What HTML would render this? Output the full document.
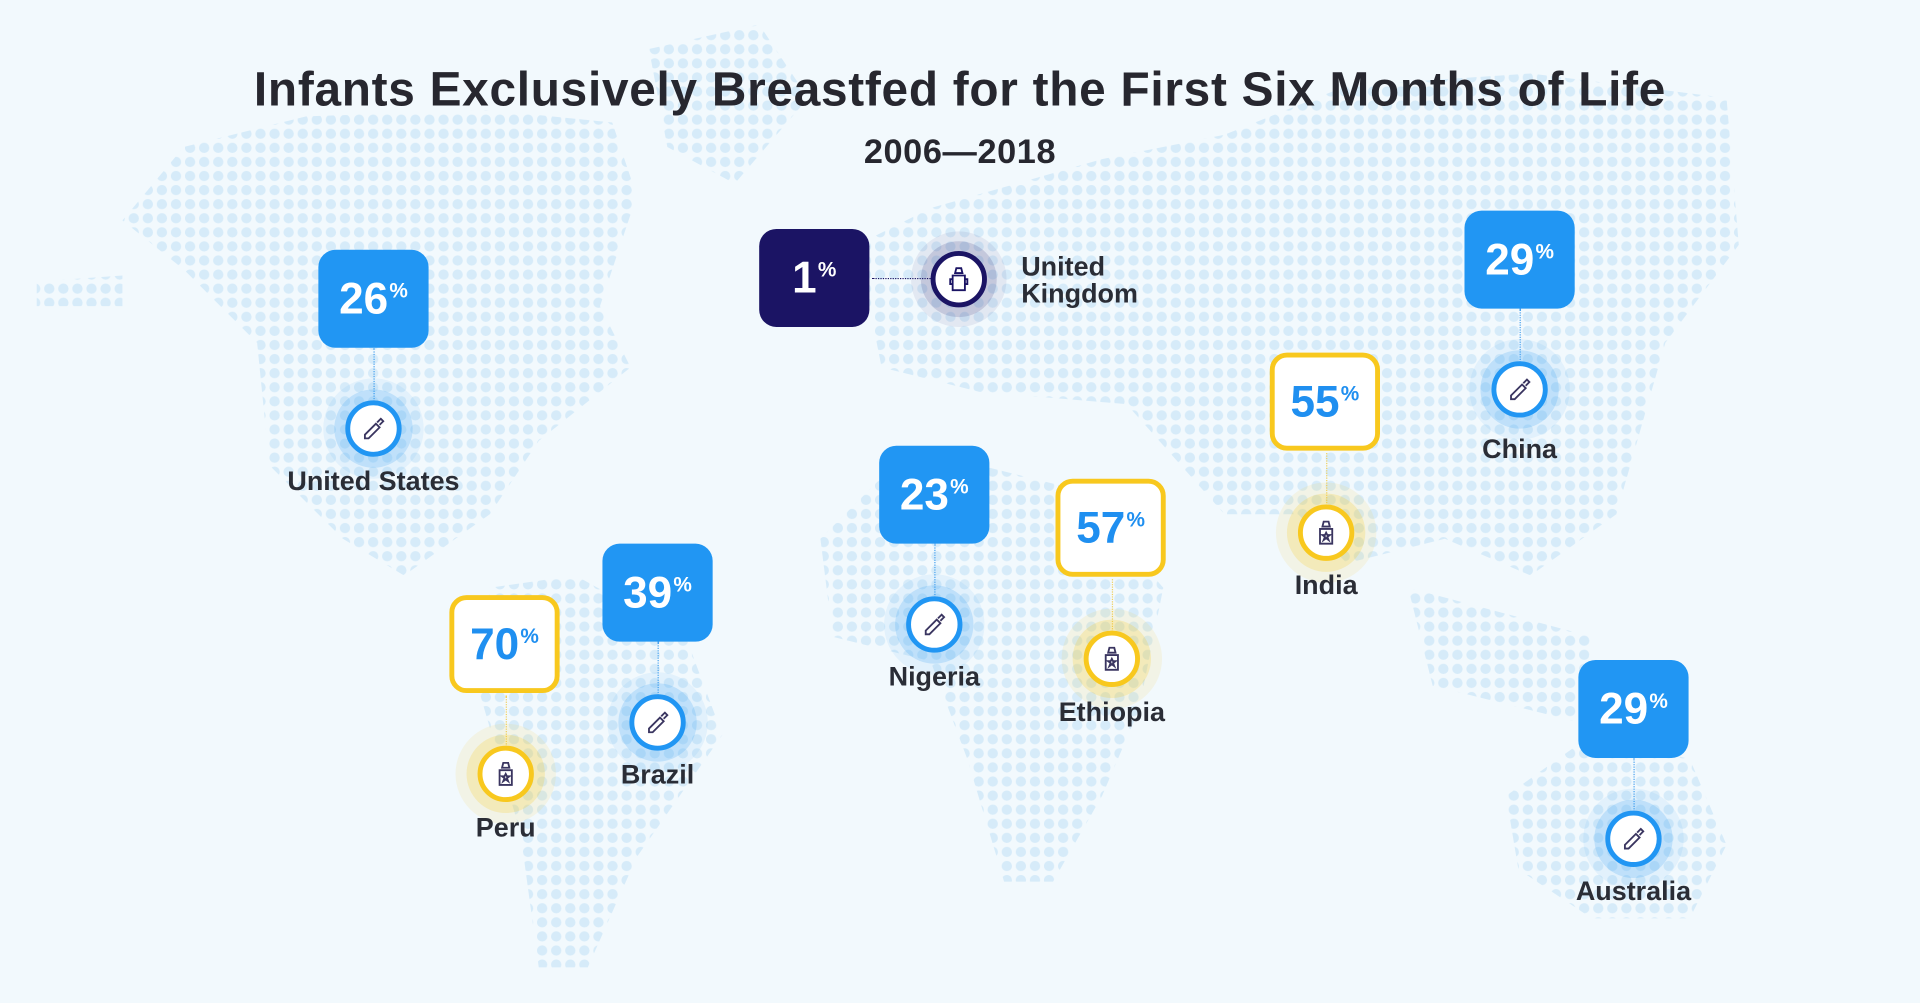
<!DOCTYPE html>
<html><head><meta charset="utf-8"><style>
html,body{margin:0;padding:0;width:1920px;height:1003px;overflow:hidden;background:#f2f9fd;font-family:"Liberation Sans",sans-serif}
#w{position:absolute;left:0;top:0;width:1568px;height:819px;transform:scale(1.22449);transform-origin:0 0}
.t{position:absolute;left:0;width:1568px;text-align:center;color:#27272f;font-weight:bold}
.box{position:absolute;width:90px;height:80px;border-radius:14px;background:#2196f3;color:#fff;display:flex;align-items:center;justify-content:center;font-weight:bold;font-size:36px;box-sizing:border-box}
.box sup{font-size:17px;vertical-align:top;position:relative;top:-6px;margin-left:1px}
.y{background:#fff;border:4px solid #f8c81e;color:#1f8ff0}
.ln{position:absolute;width:0;border-left:1.5px dotted #4aa3ef}
.ic{position:absolute;width:38px;height:38px;margin:-23px 0 0 -23px;border-radius:50%;background:#fff;border:4px solid #2196f3;box-shadow:0 0 0 9px rgba(33,150,243,.18),0 0 0 18px rgba(33,150,243,.08)}
.ic.yy{border-color:#f8c81e;box-shadow:0 0 0 9px rgba(248,200,30,.22),0 0 0 18px rgba(248,200,30,.10)}
.ic svg{position:absolute;left:7px;top:7px}
.lb{position:absolute;width:200px;margin-left:-100px;text-align:center;font-weight:bold;font-size:22px;color:#2a2d36}
</style></head><body><div id="w">
<svg width="1568" height="819" style="position:absolute;left:0;top:0">
<defs><pattern id="d" width="11.5" height="11.5" patternUnits="userSpaceOnUse"><circle cx="5.75" cy="5.75" r="4.2" fill="#d6ebf9"/></pattern></defs>
<g fill="url(#d)">
<polygon points="100,180 150,120 250,95 400,90 500,100 520,160 490,250 515,300 440,360 400,420 330,470 280,440 220,380 210,280 150,220"/>
<polygon points="530,40 620,20 660,80 600,150 545,120"/>
<polygon points="400,480 470,470 560,520 590,600 520,700 480,790 440,790 425,680 390,560"/>
<polygon points="700,200 760,170 900,130 1000,110 1100,70 1250,60 1410,80 1420,200 1360,280 1320,420 1250,470 1180,440 1100,460 1060,420 1000,420 920,330 800,320 720,300"/>
<polygon points="670,440 720,390 800,380 880,400 950,480 930,580 900,650 860,720 820,720 790,620 760,540 680,520"/>
<polygon points="1230,650 1300,600 1380,620 1410,690 1380,750 1300,750 1240,710"/>
<polygon points="1150,480 1300,520 1290,590 1170,560"/>
<polygon points="30,230 100,225 100,250 30,250"/>
</g></svg>
<div class="t" style="top:52px;font-size:39px;letter-spacing:0.6px">Infants Exclusively Breastfed for the First Six Months of Life</div>
<div class="t" style="top:108px;font-size:28px;letter-spacing:0.5px">2006—2018</div>

<div class="box" style="left:620px;top:187px;background:#1b1464">1<sup>%</sup></div>
<div style="position:absolute;left:712px;top:227px;width:50px;border-top:1.5px dotted #1b1464"></div>
<div class="ic" style="left:783px;top:228px;border-color:#1b1464;box-shadow:0 0 0 8px rgba(27,20,100,.15),0 0 0 16px rgba(27,20,100,.07)"><svg width="24" height="24" viewBox="0 0 24 24" fill="none" stroke="#1b1464" stroke-width="1.5"><path d="M10 3h4l1 4H9z M7 9h10v12H7z M7 12H5v4h2 M17 12h2v4h-2"/></svg></div>
<div style="position:absolute;left:834px;top:207px;font-size:22px;line-height:22px;font-weight:bold;color:#2a2d36">United<br>Kingdom</div>

<div class="box" style="left:260px;top:204px">26<sup>%</sup></div><div class="ln" style="left:305px;top:284px;height:44px"></div><div class="ic" style="left:305px;top:350px"><svg width="24" height="24" viewBox="0 0 24 24" fill="none" stroke="#3a3560" stroke-width="1.5"><path d="M5 17l9-9 3 3-9 9-3 0z M15 7l3-3 2 2-3 3"/></svg></div><div class="lb" style="left:305px;top:380px">United States</div>

<div class="box y" style="left:367px;top:486px">70<sup>%</sup></div><div class="ln" style="left:413px;top:568px;height:42px;border-color:#f0d060"></div><div class="ic yy" style="left:413px;top:632px"><svg width="24" height="24" viewBox="0 0 24 24" fill="none" stroke="#3a3560" stroke-width="1.5"><path d="M10 3h4l1 4H9z M7 9h10v12H7z M12 12l1 2h2l-2 1.5 1 2.5-2-1.5-2 1.5 1-2.5-2-1.5h2z"/></svg></div><div class="lb" style="left:413px;top:663px">Peru</div>

<div class="box" style="left:492px;top:444px">39<sup>%</sup></div><div class="ln" style="left:537px;top:524px;height:44px"></div><div class="ic" style="left:537px;top:590px"><svg width="24" height="24" viewBox="0 0 24 24" fill="none" stroke="#3a3560" stroke-width="1.5"><path d="M5 17l9-9 3 3-9 9-3 0z M15 7l3-3 2 2-3 3"/></svg></div><div class="lb" style="left:537px;top:620px">Brazil</div>

<div class="box" style="left:718px;top:364px">23<sup>%</sup></div><div class="ln" style="left:763px;top:444px;height:44px"></div><div class="ic" style="left:763px;top:510px"><svg width="24" height="24" viewBox="0 0 24 24" fill="none" stroke="#3a3560" stroke-width="1.5"><path d="M5 17l9-9 3 3-9 9-3 0z M15 7l3-3 2 2-3 3"/></svg></div><div class="lb" style="left:763px;top:540px">Nigeria</div>

<div class="box y" style="left:862px;top:391px">57<sup>%</sup></div><div class="ln" style="left:908px;top:473px;height:43px;border-color:#f0d060"></div><div class="ic yy" style="left:908px;top:538px"><svg width="24" height="24" viewBox="0 0 24 24" fill="none" stroke="#3a3560" stroke-width="1.5"><path d="M10 3h4l1 4H9z M7 9h10v12H7z M12 12l1 2h2l-2 1.5 1 2.5-2-1.5-2 1.5 1-2.5-2-1.5h2z"/></svg></div><div class="lb" style="left:908px;top:569px">Ethiopia</div>

<div class="box y" style="left:1037px;top:288px">55<sup>%</sup></div><div class="ln" style="left:1083px;top:370px;height:43px;border-color:#f0d060"></div><div class="ic yy" style="left:1083px;top:435px"><svg width="24" height="24" viewBox="0 0 24 24" fill="none" stroke="#3a3560" stroke-width="1.5"><path d="M10 3h4l1 4H9z M7 9h10v12H7z M12 12l1 2h2l-2 1.5 1 2.5-2-1.5-2 1.5 1-2.5-2-1.5h2z"/></svg></div><div class="lb" style="left:1083px;top:465px">India</div>

<div class="box" style="left:1196px;top:172px">29<sup>%</sup></div><div class="ln" style="left:1241px;top:252px;height:44px"></div><div class="ic" style="left:1241px;top:318px"><svg width="24" height="24" viewBox="0 0 24 24" fill="none" stroke="#3a3560" stroke-width="1.5"><path d="M5 17l9-9 3 3-9 9-3 0z M15 7l3-3 2 2-3 3"/></svg></div><div class="lb" style="left:1241px;top:354px">China</div>

<div class="box" style="left:1289px;top:539px">29<sup>%</sup></div><div class="ln" style="left:1334px;top:619px;height:44px"></div><div class="ic" style="left:1334px;top:685px"><svg width="24" height="24" viewBox="0 0 24 24" fill="none" stroke="#3a3560" stroke-width="1.5"><path d="M5 17l9-9 3 3-9 9-3 0z M15 7l3-3 2 2-3 3"/></svg></div><div class="lb" style="left:1334px;top:715px">Australia</div>
</div></body></html>
